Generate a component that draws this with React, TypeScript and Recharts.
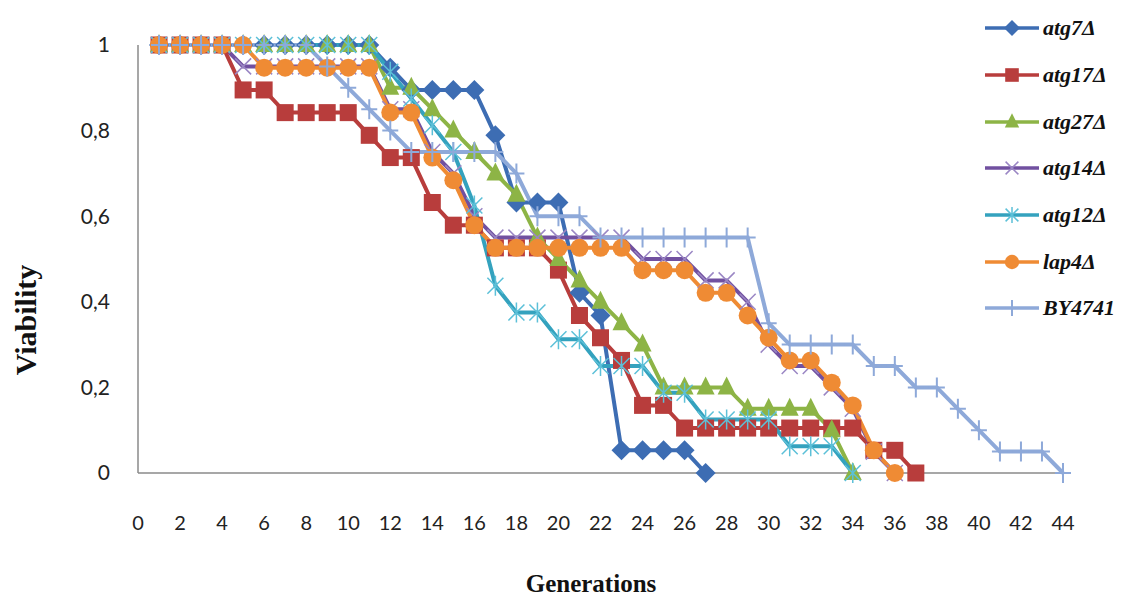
import React from 'react';
import { LineChart, Line, XAxis, YAxis, Legend } from 'recharts';

// generation index (x) and viability values
const generations = [
  1, 2, 3, 4, 5, 6, 7, 8, 9, 10, 11, 12, 13, 14, 15, 16, 17, 18, 19, 20, 21, 22,
  23, 24, 25, 26, 27, 28, 29, 30, 31, 32, 33, 34, 35, 36, 37, 38, 39, 40, 41, 42, 43, 44,
];

const atg7 = [
  1, 1, 1, 1, 1, 1, 1, 1, 1, 1, 1, 0.947, 0.895, 0.895, 0.895, 0.895, 0.789,
  0.632, 0.632, 0.632, 0.421, 0.368, 0.053, 0.053, 0.053, 0.053, 0,
];
const atg17 = [
  1, 1, 1, 1, 0.895, 0.895, 0.842, 0.842, 0.842, 0.842, 0.789, 0.737, 0.737,
  0.632, 0.579, 0.579, 0.526, 0.526, 0.526, 0.474, 0.368, 0.316, 0.263, 0.158,
  0.158, 0.105, 0.105, 0.105, 0.105, 0.105, 0.105, 0.105, 0.105, 0.105, 0.053,
  0.053, 0,
];
const atg27 = [
  1, 1, 1, 1, 1, 1, 1, 1, 1, 1, 1, 0.9, 0.9, 0.85, 0.8, 0.75, 0.7, 0.65, 0.55,
  0.5, 0.45, 0.4, 0.35, 0.3, 0.2, 0.2, 0.2, 0.2, 0.15, 0.15, 0.15, 0.15, 0.1, 0,
];
const atg14 = [
  1, 1, 1, 1, 0.95, 0.95, 0.95, 0.95, 0.95, 0.95, 0.95, 0.85, 0.85, 0.75, 0.7,
  0.6, 0.55, 0.55, 0.55, 0.55, 0.55, 0.55, 0.55, 0.5, 0.5, 0.5, 0.45, 0.45, 0.4,
  0.3, 0.25, 0.25, 0.2, 0.15, 0.05, 0,
];
const atg12 = [
  1, 1, 1, 1, 1, 1, 1, 1, 1, 1, 1, 0.9375, 0.875, 0.8125, 0.75, 0.625, 0.4375,
  0.375, 0.375, 0.3125, 0.3125, 0.25, 0.25, 0.25, 0.1875, 0.1875, 0.125, 0.125,
  0.125, 0.125, 0.0625, 0.0625, 0.0625, 0,
];
const lap4 = [
  1, 1, 1, 1, 1, 0.947, 0.947, 0.947, 0.947, 0.947, 0.947, 0.842, 0.842, 0.737,
  0.684, 0.579, 0.526, 0.526, 0.526, 0.526, 0.526, 0.526, 0.526, 0.474, 0.474,
  0.474, 0.421, 0.421, 0.368, 0.316, 0.263, 0.263, 0.211, 0.158, 0.053, 0,
];
const by4741 = [
  1, 1, 1, 1, 1, 1, 1, 1, 0.95, 0.9, 0.85, 0.8, 0.75, 0.75, 0.75, 0.75, 0.75,
  0.7, 0.6, 0.6, 0.6, 0.55, 0.55, 0.55, 0.55, 0.55, 0.55, 0.55, 0.55, 0.35, 0.3,
  0.3, 0.3, 0.3, 0.25, 0.25, 0.2, 0.2, 0.15, 0.1, 0.05, 0.05, 0.05, 0,
];

const xTicks = [0, 2, 4, 6, 8, 10, 12, 14, 16, 18, 20, 22, 24, 26, 28, 30, 32, 34, 36, 38, 40, 42, 44];
const yTicks = [0, 0.2, 0.4, 0.6, 0.8, 1];

type MarkerType = 'diamond' | 'square' | 'triangle' | 'x' | 'star' | 'circle' | 'plus';

const series: { key: string; name: string; color: string; marker: MarkerType; values: number[] }[] = [
  { key: 'atg7', name: 'atg7Δ', color: '#3D6DB3', marker: 'diamond', values: atg7 },
  { key: 'atg17', name: 'atg17Δ', color: '#B83D3C', marker: 'square', values: atg17 },
  { key: 'atg27', name: 'atg27Δ', color: '#8DB446', marker: 'triangle', values: atg27 },
  { key: 'atg14', name: 'atg14Δ', color: '#7150A0', marker: 'x', values: atg14 },
  { key: 'atg12', name: 'atg12Δ', color: '#34A2BE', marker: 'star', values: atg12 },
  { key: 'lap4', name: 'lap4Δ', color: '#EF8B34', marker: 'circle', values: lap4 },
  { key: 'by4741', name: 'BY4741', color: '#8EA9D9', marker: 'plus', values: by4741 },
];

const data = generations.map((g, i) => {
  const row: Record<string, number | null> = { gen: g };
  series.forEach((s) => {
    row[s.key] = i < s.values.length ? s.values[i] : null;
  });
  return row;
});

const Marker = ({ type, cx, cy, color, s = 1 }: { type: MarkerType; cx: number; cy: number; color: string; s?: number }) => {
  switch (type) {
    case 'diamond':
      return <path d={`M${cx},${cy - 10 * s}L${cx + 10 * s},${cy}L${cx},${cy + 10 * s}L${cx - 10 * s},${cy}Z`} fill={color} />;
    case 'square':
      return <rect x={cx - 8.5 * s} y={cy - 8.5 * s} width={17 * s} height={17 * s} fill={color} />;
    case 'triangle':
      return <path d={`M${cx},${cy - 11 * s}L${cx + 9 * s},${cy + 7 * s}L${cx - 9 * s},${cy + 7 * s}Z`} fill={color} />;
    case 'x':
      return (
        <path
          d={`M${cx - 8 * s},${cy - 8 * s}L${cx + 8 * s},${cy + 8 * s}M${cx + 8 * s},${cy - 8 * s}L${cx - 8 * s},${cy + 8 * s}`}
          stroke="#9A86C4"
          strokeWidth={1.5}
        />
      );
    case 'star':
      return (
        <path
          d={`M${cx - 8 * s},${cy - 8 * s}L${cx + 8 * s},${cy + 8 * s}M${cx + 8 * s},${cy - 8 * s}L${cx - 8 * s},${cy + 8 * s}M${cx},${cy - 10 * s}L${cx},${cy + 10 * s}`}
          stroke="#5CC0D8"
          strokeWidth={1.5}
        />
      );
    case 'circle':
      return <circle cx={cx} cy={cy} r={9 * s} fill={color} />;
    case 'plus':
      return (
        <path
          d={`M${cx},${cy - 10 * s}L${cx},${cy + 10 * s}M${cx - 8 * s},${cy}L${cx + 8 * s},${cy}`}
          stroke={color}
          strokeWidth={2}
        />
      );
    default:
      return null;
  }
};

const makeDot = (type: MarkerType, color: string) => (p: any) => {
  if (p.cx == null || p.cy == null || p.value == null) return <g key={`d-${p.index}`} />;
  return (
    <g key={`d-${p.index}`}>
      <Marker type={type} cx={p.cx} cy={p.cy} color={color} />
    </g>
  );
};

const XTick = (props: any) => {
  const { x, y, payload } = props;
  return (
    <text x={x} y={y + 48} dy="0.35em" textAnchor="middle" fontFamily="Lato" fontSize={20} fill="#222">
      {payload.value}
    </text>
  );
};

const YTick = (props: any) => {
  const { x, y, payload } = props;
  return (
    <text x={x - 26} y={y} dy="0.35em" textAnchor="end" fontFamily="Lato" fontSize={21} fill="#222">
      {String(payload.value).replace('.', ',')}
    </text>
  );
};

const renderLegend = () => (
  <div>
    {series.map((s) => (
      <div key={s.key} style={{ display: 'flex', alignItems: 'center', height: 46.7 }}>
        <svg width={58} height={24} style={{ display: 'block' }}>
          <line x1={0} y1={12} x2={54} y2={12} stroke={s.color} strokeWidth={3.5} />
          <Marker type={s.marker} cx={27} cy={12} color={s.color} s={0.8} />
        </svg>
        <span
          style={{
            fontFamily: '"Liberation Serif", serif',
            fontWeight: 'bold',
            fontStyle: 'italic',
            fontSize: 22,
            color: '#111',
            lineHeight: 1,
          }}
        >
          {s.name}
        </span>
      </div>
    ))}
  </div>
);

export default function App() {
  return (
    <div style={{ position: 'absolute', left: 0, top: 0, width: 1140, height: 601, background: '#fff' }}>
      <LineChart width={1140} height={601} data={data} margin={{ top: 45, right: 77, left: 0, bottom: 68 }}>
        <XAxis
          dataKey="gen"
          type="number"
          domain={[0, 44]}
          ticks={xTicks}
          height={60}
          axisLine={{ stroke: '#8a8a8a', strokeWidth: 1.5 }}
          tickLine={false}
          tickSize={0}
          tick={<XTick />}
          label={{
            content: () => (
              <text x={591} y={583} dy="0.35em" textAnchor="middle" fontFamily='"Liberation Serif", serif' fontWeight="bold" fontSize={25} fill="#111">
                Generations
              </text>
            ),
          }}
        />
        <YAxis
          type="number"
          domain={[0, 1]}
          ticks={yTicks}
          width={138}
          axisLine={{ stroke: '#8a8a8a', strokeWidth: 1.5 }}
          tickLine={false}
          tickSize={0}
          tick={<YTick />}
          label={{
            content: () => (
              <text
                x={25}
                y={320}
                dy="0.35em"
                transform="rotate(-90 25 320)"
                textAnchor="middle"
                fontFamily='"Liberation Serif", serif'
                fontWeight="bold"
                fontSize={30}
                fill="#111"
              >
                Viability
              </text>
            ),
          }}
        />
        <Legend
          layout="vertical"
          align="center"
          verticalAlign="middle"
          content={renderLegend}
          wrapperStyle={{ left: 985, top: 5, width: 155 }}
        />
        {series.map((s) => (
          <Line
            key={s.key}
            dataKey={s.key}
            name={s.name}
            type="linear"
            stroke={s.color}
            strokeWidth={4}
            dot={makeDot(s.marker, s.color)}
            activeDot={false}
            isAnimationActive={false}
          />
        ))}
      </LineChart>
    </div>
  );
}
